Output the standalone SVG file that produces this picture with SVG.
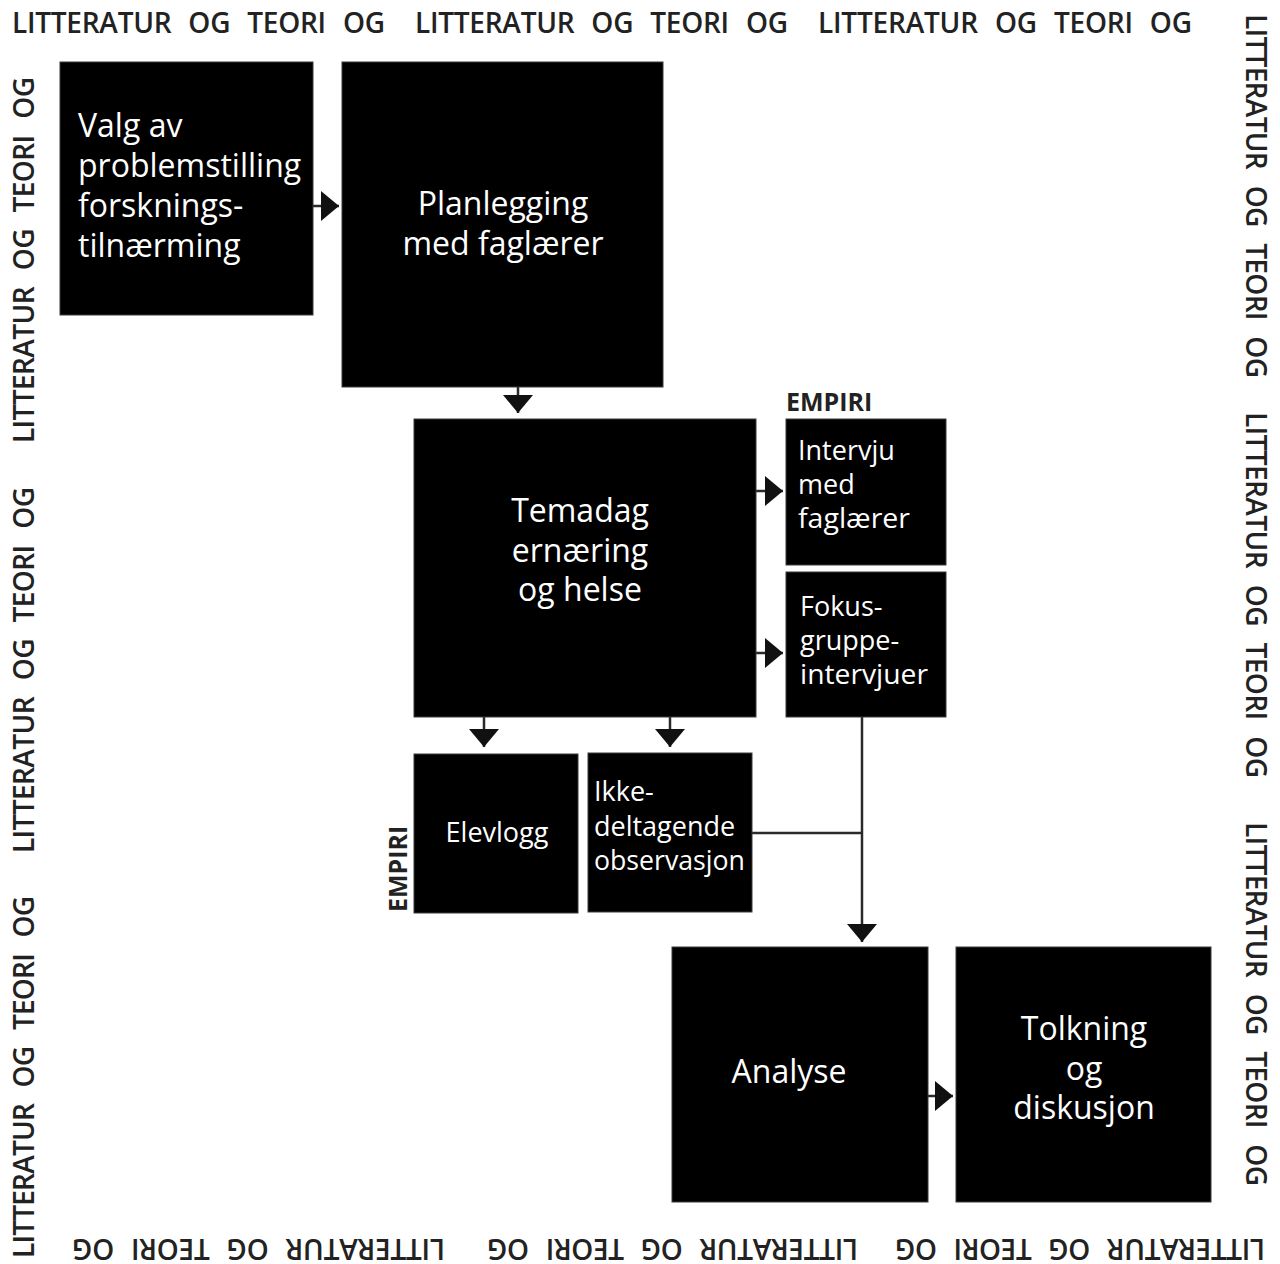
<svg xmlns="http://www.w3.org/2000/svg" width="1280" height="1264" viewBox="0 0 1280 1264">
<style>
.bg{fill:#fff}
.box{fill:#000;stroke:#3a3a3a;stroke-width:1}
.t{font-family:"Open Sans","Noto Sans","DejaVu Sans",sans-serif;fill:#fff}
.big{font-size:32px}
.sm{font-size:27px}
.mid{text-anchor:middle}
.border{font-family:"Open Sans","Noto Sans","DejaVu Sans",sans-serif;font-weight:600;font-size:28px;fill:#222;word-spacing:10px}
.emp{font-family:"Open Sans","Noto Sans","DejaVu Sans",sans-serif;font-weight:700;font-size:25px;fill:#222}
.conn{fill:none;stroke:#2a2a2a;stroke-width:2.5;marker-end:url(#ah)}
.line{fill:none;stroke:#2a2a2a;stroke-width:2.5}
</style>
<defs>
<marker id="ah" viewBox="0 0 18 30" refX="18" refY="15" markerWidth="18" markerHeight="30" markerUnits="userSpaceOnUse" orient="auto">
<path d="M0,0 L18,15 L0,30 Z" fill="#111"/>
</marker>
</defs>
<rect class="bg" x="0" y="0" width="1280" height="1264"/>

<g id="border">
<text class="border" x="12" y="33" textLength="373" lengthAdjust="spacing">LITTERATUR OG TEORI OG</text>
<text class="border" x="415" y="33" textLength="373" lengthAdjust="spacing">LITTERATUR OG TEORI OG</text>
<text class="border" x="818" y="33" textLength="374" lengthAdjust="spacing">LITTERATUR OG TEORI OG</text>
<text class="border" transform="translate(1246,14) rotate(90)" textLength="364" lengthAdjust="spacing">LITTERATUR OG TEORI OG</text>
<text class="border" transform="translate(1246,412) rotate(90)" textLength="366" lengthAdjust="spacing">LITTERATUR OG TEORI OG</text>
<text class="border" transform="translate(1246,822) rotate(90)" textLength="364" lengthAdjust="spacing">LITTERATUR OG TEORI OG</text>
<text class="border" transform="translate(34,1258) rotate(-90)" textLength="362" lengthAdjust="spacing">LITTERATUR OG TEORI OG</text>
<text class="border" transform="translate(34,853) rotate(-90)" textLength="366" lengthAdjust="spacing">LITTERATUR OG TEORI OG</text>
<text class="border" transform="translate(34,443) rotate(-90)" textLength="366" lengthAdjust="spacing">LITTERATUR OG TEORI OG</text>
<text class="border" transform="translate(1265,1239) rotate(180)" textLength="370" lengthAdjust="spacing">LITTERATUR OG TEORI OG</text>
<text class="border" transform="translate(858,1239) rotate(180)" textLength="371" lengthAdjust="spacing">LITTERATUR OG TEORI OG</text>
<text class="border" transform="translate(445,1239) rotate(180)" textLength="373" lengthAdjust="spacing">LITTERATUR OG TEORI OG</text>
</g>

<g id="connectors">
<path class="conn" d="M290,206 L339,206"/>
<path class="conn" d="M518,368 L518,413"/>
<path class="conn" d="M735,491 L783,491"/>
<path class="conn" d="M735,653 L783,653"/>
<path class="conn" d="M484,700 L484,747"/>
<path class="conn" d="M670,700 L670,747"/>
<path class="conn" d="M862,715 L862,942"/>
<path class="line" d="M752,833 L862,833"/>
<path class="conn" d="M905,1096 L953,1096"/>
</g>

<g id="n1">
<rect class="box" x="60" y="62" width="253" height="253"/>
<text class="t big" x="78" y="137">Valg av</text>
<text class="t big" x="78" y="177">problemstilling</text>
<text class="t big" x="78" y="217">forsknings-</text>
<text class="t big" x="78" y="257">tilnærming</text>
</g>
<g id="n2">
<rect class="box" x="342" y="62" width="321" height="325"/>
<text class="t big mid" x="503" y="215">Planlegging</text>
<text class="t big mid" x="503" y="255">med faglærer</text>
</g>
<g id="n3">
<rect class="box" x="414" y="419" width="342" height="298"/>
<text class="t big mid" x="580" y="522">Temadag</text>
<text class="t big mid" x="580" y="562">ernæring</text>
<text class="t big mid" x="580" y="601">og helse</text>
</g>
<g id="empiri1">
<text class="emp" x="786" y="411">EMPIRI</text>
</g>
<g id="n4">
<rect class="box" x="786" y="419" width="160" height="146"/>
<text class="t sm" x="798" y="460">Intervju</text>
<text class="t sm" x="798" y="494">med</text>
<text class="t sm" x="798" y="528" textLength="112" lengthAdjust="spacingAndGlyphs">faglærer</text>
</g>
<g id="n5">
<rect class="box" x="786" y="572" width="160" height="145"/>
<text class="t sm" x="800" y="616">Fokus-</text>
<text class="t sm" x="800" y="650">gruppe-</text>
<text class="t sm" x="800" y="684" textLength="128" lengthAdjust="spacingAndGlyphs">intervjuer</text>
</g>
<g id="empiri2">
<text class="emp" transform="translate(407,912) rotate(-90)">EMPIRI</text>
</g>
<g id="n6">
<rect class="box" x="414" y="754" width="164" height="159"/>
<text class="t sm mid" x="497" y="842">Elevlogg</text>
</g>
<g id="n7">
<rect class="box" x="588" y="753" width="164" height="159"/>
<text class="t sm" x="594" y="801">Ikke-</text>
<text class="t sm" x="594" y="836">deltagende</text>
<text class="t sm" x="594" y="870" textLength="151" lengthAdjust="spacingAndGlyphs">observasjon</text>
</g>
<g id="n8">
<rect class="box" x="672" y="947" width="256" height="255"/>
<text class="t big mid" x="789" y="1083">Analyse</text>
</g>
<g id="n9">
<rect class="box" x="956" y="947" width="255" height="255"/>
<text class="t big mid" x="1084" y="1040">Tolkning</text>
<text class="t big mid" x="1084" y="1080">og</text>
<text class="t big mid" x="1084" y="1119">diskusjon</text>
</g>
</svg>
